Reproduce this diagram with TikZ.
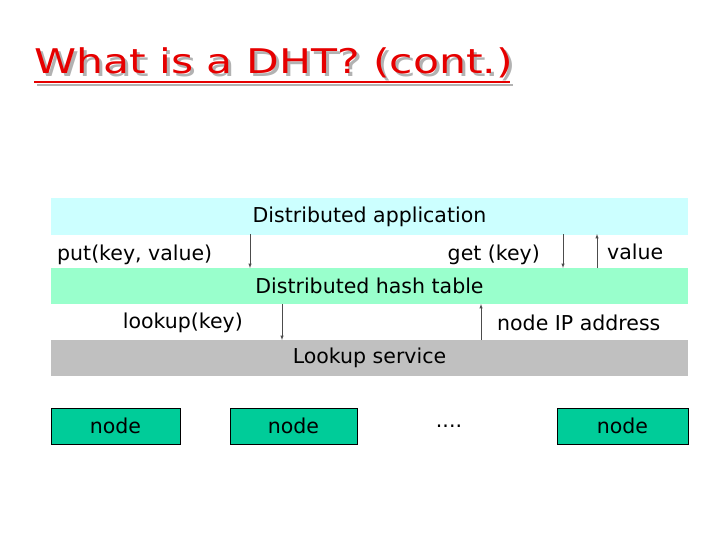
\documentclass[tikz,border=0pt]{standalone}
\usepackage{fontspec}
\setmainfont{DejaVu Sans}
\begin{document}
\begin{tikzpicture}[x=1pt,y=-1pt,
  band/.style={draw=none,minimum height=36pt,minimum width=637pt,inner sep=0pt},
  nodebox/.style={draw=black,line width=0.6pt,fill=nodegreen,minimum height=36pt,inner sep=0pt,font=\fontsize{20.5}{24}\selectfont},
  lbl/.style={font=\fontsize{20.5}{24}\selectfont,inner sep=0pt},
  ttl/.style={anchor=west,inner sep=0pt,font=\fontsize{34}{38}\selectfont,xscale=1.25},
  arr/.style={-latex,line width=0.5pt,draw=black!70}]
\definecolor{appcol}{RGB}{204,255,255}
\definecolor{dhtcol}{RGB}{153,255,204}
\definecolor{lookcol}{RGB}{192,192,192}
\definecolor{nodegreen}{RGB}{0,204,153}
\definecolor{titlered}{RGB}{230,0,0}
\useasboundingbox (0,0) rectangle (720,540);
\fill[white] (0,0) rectangle (720,540);
% title
\node[ttl,text=gray!60] (tsh) at (37,66) {What is a DHT? (cont.)};
\node[ttl,text=titlered] (title) at (34,63) {What is a DHT? (cont.)};
\coordinate (u1) at (34,82); \coordinate (u2) at (510,82);
\draw[gray!60,line width=2pt] ([shift={(3,3)}]u1) -- ([shift={(3,3)}]u2);
\draw[draw=titlered,line width=2pt] (u1) -- (u2);
% bands
\node[band,fill=appcol] (app) at (369.5,216.5) {};
\node[lbl] (appt) at (app) {Distributed application};
\node[band,fill=dhtcol] (dht) at (369.5,286) {};
\node[lbl] (dhtt) at (dht) {Distributed hash table};
\node[band,fill=lookcol] (look) at (369.5,358) {};
\node[lbl] (lookt) at (look) {Lookup service};
% nodes
\node[nodebox,minimum width=129pt] (n1) at (115.5,426) {node};
\node[nodebox,minimum width=127pt] (n2) at (293.5,426) {node};
\node[lbl] (dots) at (449,426) {....};
\node[nodebox,minimum width=131pt] (n3) at (622.5,426) {node};
% arrows
\coordinate (a1) at (250,234); \coordinate (b1) at (250,268);
\draw[arr] (a1) -- (b1);
\coordinate (a2) at (563,234); \coordinate (b2) at (563,268);
\draw[arr] (a2) -- (b2);
\coordinate (a3) at (597,268); \coordinate (b3) at (597,234);
\draw[arr] (a3) -- (b3);
\coordinate (a4) at (282,304); \coordinate (b4) at (282,340);
\draw[arr] (a4) -- (b4);
\coordinate (a5) at (481,340); \coordinate (b5) at (481,304);
\draw[arr] (a5) -- (b5);
% labels
\node[lbl,anchor=west] (put) at (57,255) {put(key, value)};
\node[lbl,anchor=east] (get) at (540,255) {get (key)};
\node[lbl,anchor=west] (val) at (607,252) {value};
\node[lbl,anchor=east] (lk) at (243,323) {lookup(key)};
\node[lbl,anchor=west] (ip) at (497,323) {node IP address};
\end{tikzpicture}
\end{document}
